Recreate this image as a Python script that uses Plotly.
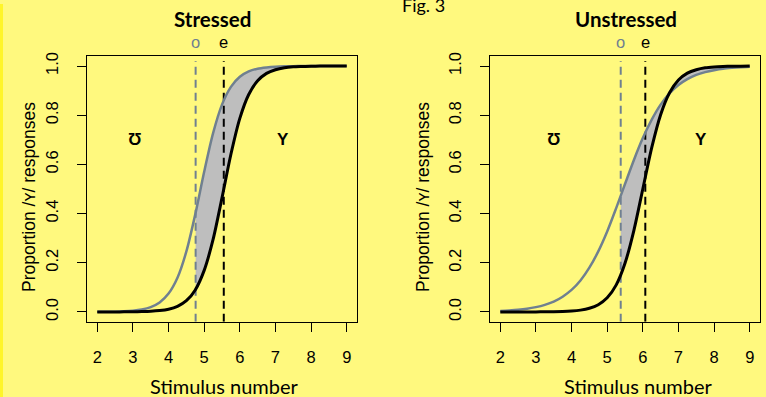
import plotly.graph_objects as go

# ---- data ----
X = [2.0, 2.25, 2.5, 2.75, 3.0, 3.25, 3.5, 3.75, 4.0, 4.25, 4.5, 4.75, 5.0, 5.25,
     5.5, 5.75, 6.0, 6.25, 6.5, 6.75, 7.0, 7.25, 7.5, 7.75, 8.0, 8.25, 8.5, 8.75, 9.0]

stressed_o = [0.0003, 0.0006, 0.0012, 0.0024, 0.0049, 0.0098, 0.0195, 0.0384, 0.0745, 0.139,
              0.246, 0.397, 0.570, 0.727, 0.843, 0.915, 0.956, 0.978, 0.989, 0.994,
              0.997, 0.9986, 0.9993, 0.9997, 0.9998, 0.9999, 1.0, 1.0, 1.0]
stressed_e = [0.0000, 0.0001, 0.0001, 0.0003, 0.0006, 0.0013, 0.0026, 0.0054, 0.011, 0.0225,
              0.0455, 0.0895, 0.169, 0.295, 0.464, 0.641, 0.787, 0.884, 0.940, 0.970,
              0.985, 0.993, 0.9965, 0.998, 0.9992, 0.9996, 0.9998, 0.9999, 1.0]
unstressed_o = [0.004, 0.006, 0.0088, 0.013, 0.0195, 0.0288, 0.042, 0.062, 0.0895, 0.128,
                0.180, 0.246, 0.327, 0.421, 0.520, 0.618, 0.707, 0.782, 0.843, 0.889,
                0.923, 0.947, 0.964, 0.975, 0.983, 0.989, 0.9925, 0.995, 0.9966]
unstressed_e = [0.0000, 0.0000, 0.0001, 0.0001, 0.0002, 0.0005, 0.0009, 0.0018, 0.0037, 0.0074,
                0.0148, 0.0293, 0.0573, 0.109, 0.198, 0.332, 0.500, 0.668, 0.802, 0.891,
                0.943, 0.971, 0.985, 0.993, 0.9963, 0.998, 0.9991, 0.9995, 0.9998]

# category boundaries (dashed lines) and curve values there
bound_stressed = {"o": 4.76, "e": 5.55, "o_at_o": 0.403, "e_at_o": 0.092}
bound_unstressed = {"o": 5.38, "e": 6.07, "o_at_o": 0.472, "e_at_o": 0.150}

panel_titles = ["Stressed", "Unstressed"]
region_labels = ["Ʊ", "Y"]
region_x = [[3.07, 7.22], [3.52, 7.64]]
region_y = 0.70
y_ticks = [0.0, 0.2, 0.4, 0.6, 0.8, 1.0]
x_ticks = [2, 3, 4, 5, 6, 7, 8, 9]

BG = "#FFF97E"
GRAY = "#708090"
FILL = "#BEBEBE"
W, H = 766, 397

fig = go.Figure()

panels = [
    ("x", "y", stressed_o, stressed_e, bound_stressed),
    ("x2", "y2", unstressed_o, unstressed_e, bound_unstressed),
]

for xa, ya, yo, ye, b in panels:
    o = b["o"]
    xs = [o] + [x for x in X if x > o]
    yo_s = [b["o_at_o"]] + [v for x, v in zip(X, yo) if x > o]
    ye_s = [b["e_at_o"]] + [v for x, v in zip(X, ye) if x > o]
    fig.add_trace(go.Scatter(x=xs, y=yo_s, mode="lines", xaxis=xa, yaxis=ya,
                             line=dict(width=0, shape="spline", smoothing=0.8),
                             hoverinfo="skip", showlegend=False))
    fig.add_trace(go.Scatter(x=xs, y=ye_s, mode="lines", xaxis=xa, yaxis=ya,
                             line=dict(width=0, shape="spline", smoothing=0.8),
                             fill="tonexty", fillcolor=FILL,
                             hoverinfo="skip", showlegend=False))
    # dashed boundaries
    fig.add_trace(go.Scatter(x=[o, o], y=[-0.04, 1.02], mode="lines", xaxis=xa, yaxis=ya,
                             line=dict(color=GRAY, width=2, dash="8px,5px"),
                             hoverinfo="skip", showlegend=False))
    fig.add_trace(go.Scatter(x=[b["e"], b["e"]], y=[-0.04, 1.02], mode="lines", xaxis=xa, yaxis=ya,
                             line=dict(color="black", width=2, dash="8px,5px"),
                             hoverinfo="skip", showlegend=False))
    fig.add_trace(go.Scatter(x=X, y=yo, mode="lines", xaxis=xa, yaxis=ya,
                             line=dict(color=GRAY, width=2.5, shape="spline", smoothing=0.8),
                             showlegend=False))
    fig.add_trace(go.Scatter(x=X, y=ye, mode="lines", xaxis=xa, yaxis=ya,
                             line=dict(color="black", width=3, shape="spline", smoothing=0.8),
                             showlegend=False))

axis_common = dict(showline=True, linecolor="black", linewidth=1, mirror=True,
                   ticks="outside", ticklen=9, tickcolor="black", tickwidth=1,
                   showgrid=False, zeroline=False,
                   tickfont=dict(family="Liberation Sans, Arial", size=16.5, color="black"))

fig.update_layout(
    width=W, height=H,
    paper_bgcolor=BG, plot_bgcolor=BG,
    margin=dict(l=0, r=0, t=0, b=0),
    showlegend=False,
    xaxis=dict(domain=[87.3 / W, 356.7 / W], range=[1.72, 9.28], tickvals=x_ticks,
               ticklabelstandoff=11, anchor="y", **axis_common),
    yaxis=dict(domain=[1 - 321 / H, 1 - 52.7 / H], range=[-0.04, 1.04], tickvals=y_ticks,
               tickformat=".1f", tickangle=-90, ticklabelstandoff=13, anchor="x", **axis_common),
    xaxis2=dict(domain=[490.3 / W, 759.7 / W], range=[1.72, 9.28], tickvals=x_ticks,
                ticklabelstandoff=11, anchor="y2", **axis_common),
    yaxis2=dict(domain=[1 - 321 / H, 1 - 52.7 / H], range=[-0.04, 1.04], tickvals=y_ticks,
                tickformat=".1f", tickangle=-90, ticklabelstandoff=13, anchor="x2", **axis_common),
)

ann = []
title_font = dict(family="Lato, Open Sans", size=20.5, color="black")
label_font = dict(family="Lato, Open Sans", size=20, color="black")
for i, (xa, ya, cx, ycx) in enumerate([("x", "y", 212, 29), ("x2", "y2", 626, 423)]):
    ann.append(dict(text="<b>%s</b>" % panel_titles[i], x=cx / W, y=1 - 15 / H, xref="paper", yref="paper",
                    showarrow=False, font=title_font, xanchor="center", yanchor="middle"))
    b = panels[i][4]
    ann.append(dict(text="o", x=b["o"], y=1 - 38 / H, xref=xa, yref="paper", showarrow=False,
                    font=dict(family="Liberation Sans, Arial", size=16.5, color=GRAY),
                    xanchor="center", yanchor="middle"))
    ann.append(dict(text="e", x=b["e"], y=1 - 38 / H, xref=xa, yref="paper", showarrow=False,
                    font=dict(family="Liberation Sans, Arial", size=16.5, color="black"),
                    xanchor="center", yanchor="middle"))
    for lab, lx in zip(region_labels, region_x[i]):
        ann.append(dict(text="<b>%s</b>" % lab, x=lx, y=region_y, xref=xa, yref=ya, showarrow=False,
                        font=dict(family="Liberation Sans, Arial", size=17, color="black"),
                        xanchor="center", yanchor="middle"))
    ann.append(dict(text="Stimulus number", x=(cx + 12) / W, y=1 - 386 / H, xref="paper", yref="paper",
                    showarrow=False, font=label_font, xanchor="center", yanchor="middle"))
    ann.append(dict(text="Proportion /ʏ/ responses", x=ycx / W, y=1 - 195 / H, xref="paper", yref="paper",
                    showarrow=False, textangle=-90,
                    font=dict(family="Liberation Sans, Arial", size=17.5, color="black"),
                    xanchor="center", yanchor="middle"))
ann.append(dict(text="Fig. 3", x=423 / W, y=1 - 1 / H, xref="paper", yref="paper", showarrow=False,
                font=dict(family="Lato, Open Sans", size=18, color="black"),
                xanchor="center", yanchor="middle"))
fig.update_layout(annotations=ann)

fig.add_shape(type="rect", xref="paper", yref="paper", x0=0, x1=3 / W, y0=0, y1=1,
              fillcolor="#FFF52A", line=dict(width=0), layer="below")

fig.write_html("out.html", config={"displayModeBar": False},
               post_script="document.body.style.margin='0';document.body.style.padding='0';"
                           "document.body.style.overflow='hidden';document.body.style.background='%s';" % BG)
